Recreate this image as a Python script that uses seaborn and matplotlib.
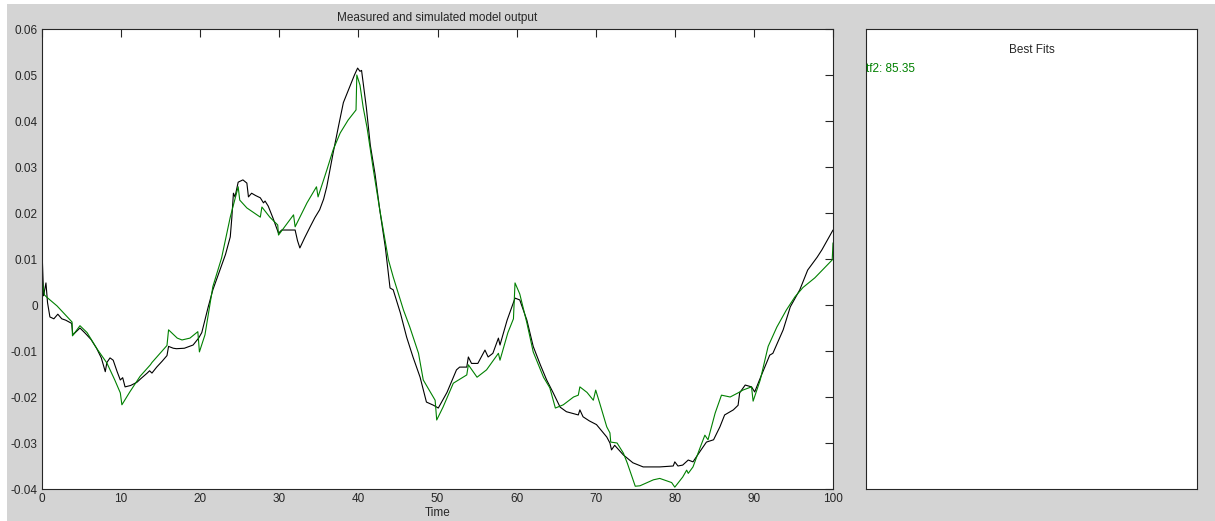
import numpy as np
import pandas as pd
import seaborn as sns
import matplotlib.pyplot as plt
from matplotlib.patches import Rectangle
from matplotlib.ticker import FuncFormatter

# measured output (black)
meas_t = [0.0, 0.2, 0.5, 0.7, 1.0, 1.5, 2.0, 2.5, 3.0, 3.75, 3.9, 4.8, 5.5, 6.2, 6.9, 7.5, 8.0, 8.2,
          8.6, 9.0, 9.5, 9.9, 10.2, 10.5, 11.2, 12.0, 12.5, 13.3, 13.6, 13.9, 14.5, 15.2, 15.8, 16.0,
          16.6, 17.0, 18.0, 19.1, 19.8, 20.2, 21.0, 21.6, 22.5, 23.2, 23.8, 24.0, 24.2, 24.4, 24.8,
          25.4, 25.9, 26.1, 26.5, 27.0, 27.6, 28.0, 28.2, 28.6, 29.2, 29.9, 30.3, 31.5, 32.0, 32.3,
          32.6, 33.2, 33.9, 34.5, 35.1, 35.6, 36.0, 36.8, 37.5, 38.1, 38.9, 39.5, 39.9, 40.2, 40.4,
          40.7, 41.0, 41.5, 42.1, 42.7, 43.4, 44.0, 44.4, 45.3, 46.1, 46.9, 47.8, 48.6, 49.5, 50.1,
          51.2, 52.4, 52.8, 53.7, 53.9, 54.3, 55.1, 56.0, 56.4, 57.0, 57.7, 57.9, 58.8, 59.8, 60.4,
          61.3, 62.1, 63.0, 63.8, 64.6, 65.5, 66.3, 67.8, 68.0, 68.4, 69.2, 70.1, 71.4, 71.8, 72.0,
          72.4, 73.5, 74.7, 76.0, 78.1, 79.8, 80.0, 80.4, 81.0, 81.7, 82.3, 83.2, 84.0, 84.9, 85.7,
          86.3, 87.4, 88.0, 88.2, 88.9, 89.7, 90.1, 90.8, 92.0, 92.4, 93.7, 94.6, 95.8, 96.8, 98.0,
          98.6, 100.0]
meas_y = [0.012, 0.002, 0.0048, 0.0005, -0.0026, -0.003, -0.002, -0.003, -0.0033, -0.004, -0.0065,
          -0.005, -0.0062, -0.0075, -0.0094, -0.0115, -0.0145, -0.0125, -0.0115, -0.012, -0.0145,
          -0.0163, -0.0158, -0.0178, -0.0175, -0.0168, -0.016, -0.0148, -0.0143, -0.0148, -0.0135,
          -0.0122, -0.011, -0.009, -0.0094, -0.0095, -0.0094, -0.0087, -0.0072, -0.006, -0.0005,
          0.0033, 0.0076, 0.011, 0.0148, 0.019, 0.0243, 0.0235, 0.0267, 0.0272, 0.0265, 0.0235,
          0.0243, 0.0238, 0.0233, 0.0222, 0.0226, 0.0215, 0.0189, 0.0156, 0.0163, 0.0163, 0.0163,
          0.014, 0.0124, 0.0146, 0.017, 0.019, 0.0207, 0.023, 0.0257, 0.033, 0.039, 0.044, 0.0474,
          0.050, 0.0515, 0.0508, 0.051, 0.047, 0.043, 0.0348, 0.0285, 0.0207, 0.0126, 0.0037,
          0.0033, -0.0017, -0.007, -0.0113, -0.0157, -0.0211, -0.0218, -0.0224, -0.019, -0.0141,
          -0.0135, -0.0135, -0.0113, -0.0127, -0.0127, -0.0098, -0.0113, -0.0105, -0.0072, -0.0087,
          -0.0033, 0.0015, 0.0011, -0.0033, -0.009, -0.013, -0.0163, -0.019, -0.0222, -0.0232,
          -0.0239, -0.0228, -0.0243, -0.0252, -0.026, -0.0287, -0.030, -0.0315, -0.0305, -0.0326,
          -0.0343, -0.0352, -0.0352, -0.035, -0.0341, -0.035, -0.0348, -0.0337, -0.0341, -0.0318,
          -0.0298, -0.0293, -0.0265, -0.0239, -0.0228, -0.0218, -0.0191, -0.0174, -0.0178, -0.0189,
          -0.0159, -0.0109, -0.0105, -0.0054, -0.0004, 0.0033, 0.0076, 0.0104, 0.012, 0.0163]

# simulated output tf2 (green)
sim_t = [0.0, 0.3, 0.6, 1.9, 3.8, 3.85, 4.8, 5.7, 6.9, 8.2, 9.2, 9.9, 10.1, 11.1, 12.4, 13.7, 13.9,
         15.8, 16.0, 17.1, 17.7, 18.7, 19.7, 19.9, 20.6, 21.6, 22.7, 23.8, 24.8, 25.0, 25.9, 27.6,
         27.8, 28.8, 29.8, 29.9, 31.8, 32.0, 33.5, 34.7, 34.9, 36.0, 36.8, 37.7, 38.7, 39.7, 39.8,
         40.2, 40.6, 41.1, 41.9, 42.7, 43.8, 44.4, 45.7, 46.5, 47.6, 48.2, 49.7, 49.9, 50.7, 52.0,
         53.7, 53.9, 55.0, 56.2, 57.7, 57.9, 58.9, 59.6, 59.8, 60.4, 61.3, 62.1, 63.4, 64.2, 64.9,
         65.9, 67.2, 67.8, 68.0, 68.9, 69.7, 70.0, 70.5, 71.4, 71.8, 71.9, 72.7, 73.5, 74.0, 75.0,
         75.6, 77.3, 78.1, 79.6, 80.0, 81.0, 81.5, 81.7, 82.3, 83.2, 83.8, 84.2, 85.1, 85.9, 87.0,
         88.0, 88.6, 89.7, 89.9, 90.8, 91.8, 92.9, 94.1, 95.2, 96.2, 97.7, 99.9, 100.0]
sim_y = [0.0058, 0.0022, 0.0017, -0.0002, -0.0037, -0.0067, -0.0045, -0.006, -0.0094, -0.0126,
         -0.0163, -0.0191, -0.0217, -0.0189, -0.0155, -0.013, -0.0125, -0.0088, -0.0054, -0.0072,
         -0.0076, -0.0072, -0.0058, -0.0102, -0.0065, 0.004, 0.0102, 0.0191, 0.0257, 0.0228,
         0.0211, 0.0191, 0.0213, 0.0191, 0.0174, 0.0152, 0.0196, 0.017, 0.0222, 0.0257, 0.0235,
         0.0293, 0.0337, 0.0374, 0.0402, 0.0424, 0.050, 0.0478, 0.043, 0.0385, 0.0293, 0.0207,
         0.0098, 0.0061, -0.0011, -0.0048, -0.0105, -0.0163, -0.0207, -0.025, -0.0222, -0.017,
         -0.0152, -0.013, -0.0157, -0.0141, -0.0105, -0.012, -0.006, -0.003, 0.0048, 0.0024,
         -0.0039, -0.0102, -0.0157, -0.018, -0.0224, -0.0217, -0.020, -0.0196, -0.0178, -0.019,
         -0.0207, -0.0185, -0.0213, -0.0265, -0.0278, -0.0298, -0.030, -0.0322, -0.0344, -0.0394,
         -0.0393, -0.038, -0.0377, -0.0386, -0.0396, -0.0374, -0.0359, -0.0366, -0.0352, -0.031,
         -0.0283, -0.0293, -0.0235, -0.0196, -0.020, -0.0191, -0.0185, -0.0178, -0.0209, -0.0163,
         -0.009, -0.0048, -0.0011, 0.0018, 0.0038, 0.0059, 0.0098, 0.0135]

fit_name = 'tf2'
fit_value = 85.35

sns.set_style('white')
plt.rcParams['font.family'] = ['Liberation Sans', 'DejaVu Sans']
plt.rcParams['axes.unicode_minus'] = False
fs = 8.5

fig = plt.figure(figsize=(12.15, 5.21), dpi=100, facecolor='white')
fig.patches.append(Rectangle((7 / 1215, 0), 1, 517 / 521, transform=fig.transFigure,
                             facecolor='#d4d4d4', edgecolor='none', zorder=-10))

ax = fig.add_axes([42 / 1215, 32 / 521, 791 / 1215, 460 / 521])
meas = pd.DataFrame({'t': meas_t, 'y': meas_y})
sim = pd.DataFrame({'t': sim_t, 'y': sim_y})
sns.lineplot(data=meas, x='t', y='y', ax=ax, color='black', lw=0.8, sort=False, estimator=None)
sns.lineplot(data=sim, x='t', y='y', ax=ax, color='#008000', lw=0.8, sort=False, estimator=None)

ax.set_xlim(0, 100)
ax.set_ylim(-0.04, 0.06)
ax.set_xticks(np.arange(0, 101, 10))
ax.set_yticks(np.arange(-0.04, 0.0601, 0.01))
ax.yaxis.set_major_formatter(FuncFormatter(lambda v, p: '%g' % round(v, 2)))
ax.tick_params(direction='in', length=5.8, width=0.8, top=True, right=True,
               labelsize=fs, colors='#262626', pad=3)
ax.set_facecolor('white')
for s in ax.spines.values():
    s.set_color('#262626')
    s.set_linewidth(0.8)
ax.set_xlabel('Time', fontsize=fs, labelpad=1)
ax.set_ylabel('')
ax.set_title('Measured and simulated model output', fontsize=fs, pad=6)

ax2 = fig.add_axes([866 / 1215, 32 / 521, 331 / 1215, 460 / 521])
ax2.set_xticks([])
ax2.set_yticks([])
ax2.set_facecolor('white')
for s in ax2.spines.values():
    s.set_color('#262626')
    s.set_linewidth(0.8)
ax2.text(0.5, 0.955, 'Best Fits', transform=ax2.transAxes, ha='center', va='center', fontsize=fs)
ax2.text(0.0, 0.912, '%s: %.2f' % (fit_name, fit_value), transform=ax2.transAxes,
         ha='left', va='center', fontsize=fs, color='#008000')

fig.savefig('out.png', dpi=100, facecolor=fig.get_facecolor())
